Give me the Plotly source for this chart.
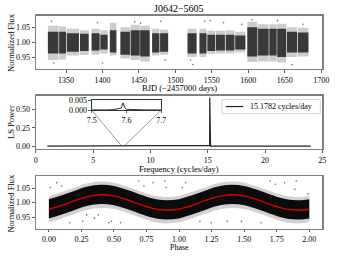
import plotly.graph_objects as go

W, H = 337, 256

# ---------------- data ----------------
# Light curve: observation segments (BJD-2457000), dense core & outer extent
seg_start = [1325.0, 1340.4, 1351.0, 1369.0, 1385.0, 1397.0, 1410.0, 1424.5, 1438.5, 1451.6, 1468.0, 1479.0,
             1516.6, 1533.0, 1543.8, 1555.7, 1569.0, 1582.0, 1598.6, 1613.4, 1628.8, 1639.7, 1653.0, 1668.0]
seg_end = [1339.5, 1350.0, 1367.6, 1381.0, 1396.0, 1407.0, 1419.0, 1437.6, 1451.0, 1464.7, 1478.0, 1490.0,
           1529.0, 1542.6, 1554.7, 1567.9, 1581.0, 1596.0, 1612.5, 1627.9, 1638.9, 1652.0, 1667.0, 1682.5]
core_hi = [1.035, 1.035, 1.030, 1.028, 1.030, 1.025, 1.040, 1.035, 1.040, 1.040, 1.030, 1.030,
           1.030, 1.030, 1.025, 1.025, 1.025, 1.022, 1.050, 1.045, 1.045, 1.045, 1.035, 1.032]
core_lo = [0.962, 0.962, 0.968, 0.970, 0.972, 0.975, 0.965, 0.958, 0.955, 0.952, 0.965, 0.968,
           0.962, 0.962, 0.970, 0.972, 0.972, 0.975, 0.952, 0.955, 0.955, 0.950, 0.965, 0.965]
outer_hi = [1.055, 1.052, 1.045, 1.040, 1.045, 1.040, 1.065, 1.050, 1.058, 1.055, 1.045, 1.042,
            1.045, 1.045, 1.038, 1.038, 1.040, 1.035, 1.068, 1.060, 1.060, 1.062, 1.050, 1.048]
outer_lo = [0.940, 0.942, 0.955, 0.957, 0.958, 0.962, 0.955, 0.945, 0.940, 0.935, 0.955, 0.958,
            0.950, 0.950, 0.960, 0.962, 0.962, 0.965, 0.933, 0.935, 0.935, 0.932, 0.950, 0.952]
lc_out_t = [1330, 1333, 1393, 1400, 1444, 1452, 1480, 1486, 1521, 1524, 1540, 1548, 1566, 1591, 1605, 1640, 1660, 1675]
lc_out_f = [1.070, 0.930, 1.065, 0.930, 1.068, 1.063, 1.070, 0.940, 0.940, 0.925, 1.070, 1.072, 1.065, 1.060,
            1.075, 1.072, 0.925, 1.060]

# Periodogram
freq = [1.0, 7.50, 7.59, 7.60, 15.10, 15.17, 15.178, 15.186, 15.25, 24.0]
power = [0.0, 0.0001, 0.0035, 0.0002, 0.0, 0.01, 0.66, 0.01, 0.0, 0.0]
peak_label = "15.1782 cycles/day"
inset_freq = [7.50, 7.52, 7.54, 7.56, 7.57, 7.58, 7.585, 7.59, 7.595, 7.60, 7.61, 7.62, 7.64, 7.66, 7.68, 7.70]
inset_power = [0.0001, 0.0000, 0.0001, 0.0002, 0.0004, 0.0006, 0.0010, 0.0036, 0.0012, 0.0004, 0.0003,
               0.0001, 0.0002, 0.0001, 0.0000, 0.0001]

# Phase-folded light curve
phase_grid = [0.0, 0.1, 0.2, 0.3, 0.4, 0.5, 0.6, 0.7, 0.8, 0.9, 1.0,
              1.1, 1.2, 1.3, 1.4, 1.5, 1.6, 1.7, 1.8, 1.9, 2.0]
band_outer_hi = [1.023, 1.036, 1.052, 1.066, 1.072, 1.068, 1.055, 1.039, 1.025, 1.019, 1.023,
                 1.036, 1.052, 1.066, 1.072, 1.068, 1.055, 1.039, 1.025, 1.019, 1.023]
band_outer_lo = [0.933, 0.946, 0.962, 0.976, 0.982, 0.978, 0.965, 0.949, 0.935, 0.929, 0.933,
                 0.946, 0.962, 0.976, 0.982, 0.978, 0.965, 0.949, 0.935, 0.929, 0.933]
band_core_hi = [1.012, 1.025, 1.041, 1.055, 1.061, 1.057, 1.044, 1.028, 1.014, 1.008, 1.012,
                1.025, 1.041, 1.055, 1.061, 1.057, 1.044, 1.028, 1.014, 1.008, 1.012]
band_core_lo = [0.946, 0.959, 0.975, 0.989, 0.995, 0.991, 0.978, 0.962, 0.948, 0.942, 0.946,
                0.959, 0.975, 0.989, 0.995, 0.991, 0.978, 0.962, 0.948, 0.942, 0.946]
model_phase = [0.00, 0.05, 0.10, 0.15, 0.20, 0.25, 0.30, 0.35, 0.40, 0.45, 0.50, 0.55, 0.60, 0.65, 0.70,
               0.75, 0.80, 0.85, 0.90, 0.95, 1.00, 1.05, 1.10, 1.15, 1.20, 1.25, 1.30, 1.35, 1.40, 1.45,
               1.50, 1.55, 1.60, 1.65, 1.70, 1.75, 1.80, 1.85, 1.90, 1.95, 2.00]
model_flux = [0.9781, 0.9836, 0.9907, 0.9988, 1.0071, 1.0147, 1.0209, 1.0251, 1.0269, 1.0262, 1.0229,
              1.0174, 1.0103, 1.0022, 0.9939, 0.9863, 0.9801, 0.9759, 0.9741, 0.9748, 0.9781,
              0.9836, 0.9907, 0.9988, 1.0071, 1.0147, 1.0209, 1.0251, 1.0269, 1.0262, 1.0229,
              1.0174, 1.0103, 1.0022, 0.9939, 0.9863, 0.9801, 0.9759, 0.9741, 0.9748, 0.9781]
ph_out_p = [0.012, 0.06, 0.098, 0.16, 0.26, 0.29, 0.35, 0.38, 0.46, 0.48, 0.55, 0.69, 0.73, 0.80, 0.89, 0.90,
            1.025, 1.05, 1.16, 1.247, 1.37, 1.48, 1.63, 1.70, 1.74, 1.81, 1.89, 1.90, 1.99]
ph_out_f = [1.052, 1.068, 1.057, 0.931, 0.936, 0.958, 0.947, 0.958, 0.931, 0.936, 0.931, 1.074, 1.057, 1.068,
            1.074, 1.052, 1.052, 1.068, 0.936, 0.931, 0.936, 0.936, 0.931, 1.074, 1.063, 1.068, 1.046,
            1.074, 1.030]

title_text = "J0642\u22125605"

# ---------------- layout helpers ----------------
def px(x):
    return x / W

def py(y):
    return 1 - y / H

FONT = "Liberation Serif, DejaVu Serif, serif"
TICKF = dict(family=FONT, size=8, color="#000000")
SPINE = dict(showline=True, linecolor="#808080", linewidth=1.3, mirror=True,
             ticks="outside", ticklen=3, tickwidth=0.8, tickcolor="#333",
             showgrid=False, zeroline=False, tickfont=TICKF)

fig = go.Figure()

# --- top panel: light curve ---
centers = [(a + b) / 2 for a, b in zip(seg_start, seg_end)]
widths = [b - a for a, b in zip(seg_start, seg_end)]
fig.add_trace(go.Bar(x=centers, y=[h - l for h, l in zip(outer_hi, outer_lo)], base=outer_lo, width=widths,
                     marker=dict(color="rgba(0,0,0,0.2)", line=dict(width=0)), showlegend=False,
                     xaxis="x", yaxis="y"))
fig.add_trace(go.Bar(x=centers, y=[h - l for h, l in zip(core_hi, core_lo)], base=core_lo, width=widths,
                     marker=dict(color="rgba(15,15,15,0.78)", line=dict(width=0)), showlegend=False,
                     xaxis="x", yaxis="y"))
fig.add_trace(go.Scatter(x=lc_out_t, y=lc_out_f, mode="markers",
                         marker=dict(size=1.6, color="rgba(0,0,0,0.6)"), showlegend=False,
                         xaxis="x", yaxis="y"))

# --- middle panel: periodogram ---
fig.add_trace(go.Scatter(x=freq, y=power, mode="lines", line=dict(color="#222", width=1.2),
                         name=peak_label, showlegend=False, xaxis="x2", yaxis="y2"))
fig.add_trace(go.Scatter(x=inset_freq, y=inset_power, mode="lines", line=dict(color="black", width=0.8),
                         showlegend=False, xaxis="x4", yaxis="y4"))

# --- bottom panel: phase folded ---
def band(hi, lo, color):
    fig.add_trace(go.Scatter(x=phase_grid, y=lo, mode="lines", line=dict(width=0, shape="spline"),
                             showlegend=False, hoverinfo="skip", xaxis="x3", yaxis="y3"))
    fig.add_trace(go.Scatter(x=phase_grid, y=hi, mode="lines", line=dict(width=0, shape="spline"),
                             fill="tonexty", fillcolor=color, showlegend=False, hoverinfo="skip",
                             xaxis="x3", yaxis="y3"))

band(band_outer_hi, band_outer_lo, "rgba(0,0,0,0.18)")
band(band_core_hi, band_core_lo, "rgba(0,0,0,0.95)")
fig.add_trace(go.Scatter(x=ph_out_p, y=ph_out_f, mode="markers",
                         marker=dict(size=1.6, color="rgba(0,0,0,0.6)"), showlegend=False,
                         xaxis="x3", yaxis="y3"))
fig.add_trace(go.Scatter(x=model_phase, y=model_flux, mode="lines", line=dict(color="#e00000", width=1.3,
                         shape="spline"), showlegend=False, xaxis="x3", yaxis="y3"))

# axes domains
xdom = [px(32), px(329)]
top_dom = [py(67), py(12)]
mid_dom = [py(150), py(95)]
bot_dom = [py(233.3), py(178.3)]
ins_xdom = [px(90), px(162)]
ins_ydom = [py(110), py(99.5)]

x2_range = [0, 25]
y2_range = [-0.035, 0.69]

SPINE_B = dict(SPINE)
SPINE_B["ticklen"] = 2

fig.update_layout(
    width=W, height=H, margin=dict(l=0, r=0, t=0, b=0),
    paper_bgcolor="white", plot_bgcolor="white", barmode="overlay", showlegend=False,
    font=dict(family=FONT, size=8, color="#000000"),
    xaxis=dict(domain=xdom, range=[1308.5, 1701.5], anchor="y", tickvals=[1350, 1400, 1450, 1500, 1550, 1600, 1650, 1700], **SPINE),
    yaxis=dict(domain=top_dom, range=[0.911, 1.089], anchor="x", tickvals=[0.95, 1.00, 1.05], tickformat=".2f", **SPINE),
    xaxis2=dict(domain=xdom, range=x2_range, anchor="y2", tickvals=[0, 5, 10, 15, 20, 25], **SPINE),
    yaxis2=dict(domain=mid_dom, range=y2_range, anchor="x2", tickvals=[0, 0.25, 0.5], tickformat=".2f", **SPINE),
    xaxis3=dict(domain=xdom, range=[-0.1, 2.1], anchor="y3", tickvals=[0, 0.25, 0.5, 0.75, 1.0, 1.25, 1.5, 1.75, 2.0],
                tickformat=".2f", **SPINE_B),
    yaxis3=dict(domain=bot_dom, range=[0.9095, 1.091], anchor="x3", tickvals=[0.95, 1.00, 1.05], tickformat=".2f", **SPINE),
    xaxis4=dict(domain=ins_xdom, range=[7.5, 7.7], anchor="y4", tickvals=[7.5, 7.6, 7.7], showline=True,
                linecolor="black", linewidth=0.8, mirror=True, ticks="outside", ticklen=2.5, tickwidth=0.8,
                tickcolor="#333", showgrid=False, zeroline=False, tickfont=TICKF),
    yaxis4=dict(domain=ins_ydom, range=[0, 0.005], anchor="x4", tickvals=[0, 0.005], tickformat=".3f",
                showline=True, linecolor="black", linewidth=0.8, mirror=True, ticks="outside", ticklen=2.5,
                tickwidth=0.8, tickcolor="#333", showgrid=False, zeroline=False, tickfont=TICKF),
)

# connector lines from inset corners to zoom region on main periodogram axis
def x2_to_paper(v):
    return xdom[0] + (v - x2_range[0]) / (x2_range[1] - x2_range[0]) * (xdom[1] - xdom[0])

def y2_to_paper(v):
    return mid_dom[0] + (v - y2_range[0]) / (y2_range[1] - y2_range[0]) * (mid_dom[1] - mid_dom[0])

for corner_x, target in [(ins_xdom[0], 7.5), (ins_xdom[1], 7.7)]:
    fig.add_shape(type="line", xref="paper", yref="paper", x0=corner_x, y0=ins_ydom[0],
                  x1=x2_to_paper(target), y1=y2_to_paper(0), line=dict(color="#555", width=0.6))

# legend box (matplotlib-style) for the periodogram peak
fig.add_shape(type="rect", xref="paper", yref="paper", x0=px(225), x1=px(327), y0=py(113.5), y1=py(99),
              line=dict(color="#cccccc", width=0.8), fillcolor="rgba(255,255,255,0.9)", layer="above")
fig.add_shape(type="line", xref="paper", yref="paper", x0=px(229), x1=px(247), y0=py(106.3), y1=py(106.3),
              line=dict(color="#222", width=1.2), layer="above")
fig.add_annotation(text=peak_label, x=px(252), y=py(106.3), xref="paper", yref="paper", showarrow=False,
                   xanchor="left", yanchor="middle", font=dict(family=FONT, size=8, color="#000000"))

# text: title and axis labels
TF = dict(family=FONT, size=8.5, color="#000000")
annos = [
    dict(text=title_text, x=(xdom[0] + xdom[1]) / 2, y=py(5), size=10),
    dict(text="BJD (\u22122457000 days)", x=(xdom[0] + xdom[1]) / 2, y=py(87), size=8.5),
    dict(text="Frequency (cycles/day)", x=(xdom[0] + xdom[1]) / 2, y=py(171), size=8.5),
    dict(text="Phase", x=(xdom[0] + xdom[1]) / 2, y=py(252.2), size=8),
]
for a in annos:
    fig.add_annotation(text=a["text"], x=a["x"], y=a["y"], xref="paper", yref="paper", showarrow=False,
                       xanchor="center", yanchor="middle", font=dict(family=FONT, size=a["size"], color="#000000"))
for txt, yc in [("Normalized Flux", 39.5), ("LS Power", 122.5), ("Normalized Flux", 206)]:
    fig.add_annotation(text=txt, x=px(6), y=py(yc), xref="paper", yref="paper", showarrow=False,
                       textangle=-90, xanchor="center", yanchor="middle", font=TF)

fig.write_html("out.html", config={"displayModeBar": False, "staticPlot": True})

# remove default page margin so the figure sits at the top-left corner
with open("out.html", "r", encoding="utf-8") as f:
    html = f.read()
html = html.replace("<head>", "<head><style>html,body{margin:0;padding:0;overflow:hidden}</style>", 1)
with open("out.html", "w", encoding="utf-8") as f:
    f.write(html)
